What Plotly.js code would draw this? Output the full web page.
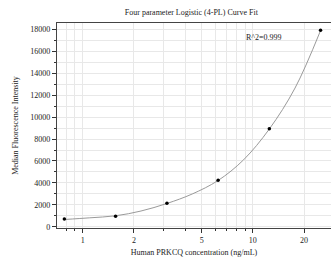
<!DOCTYPE html>
<html>
<head>
<meta charset="utf-8">
<script src="https://cdn.plot.ly/plotly-3.0.1.min.js"></script>
<style>html,body{margin:0;padding:0;background:#fff;}#chart{width:331px;height:266px;}</style>
</head>
<body>
<div id="chart"></div>
<script>
// Measured standards
var concentration = [0.78, 1.56, 3.125, 6.25, 12.5, 25];
var mfi = [700, 950, 2150, 4240, 8950, 17930];
// Fitted 4-PL curve
var curveX = [0.78, 1.1, 1.56, 2.2, 3.125, 4.4, 6.25, 8.8, 12.5, 17.7, 25];
var curveY = [657, 810, 995, 1430, 2120, 2985, 4220, 6090, 8920, 12660, 17910];
var xTickVals = [1, 2, 5, 10, 20];
var xTickText = ["1", "2", "5", "10", "20"];
var xMinorVals = [0.8, 0.9, 3, 4, 6, 7, 8, 9];
var titleText = "Four parameter Logistic (4-PL) Curve Fit";
var xTitle = "Human PRKCQ concentration (ng/mL)";
var yTitle = "Median Fluorescence Intensity";
var r2Text = "R^2=0.999";

var font = "Liberation Serif, Times New Roman, serif";
var traces = [
  {x: curveX, y: curveY, type: "scatter", mode: "lines",
   line: {color: "#9a9a9a", width: 1, shape: "spline"}, hoverinfo: "skip"},
  {x: concentration, y: mfi, type: "scatter", mode: "markers",
   marker: {color: "#000", size: 3.5}}
];
var layout = {
  width: 331, height: 266,
  margin: {l: 57, r: 0, t: 23, b: 38},
  paper_bgcolor: "#fff", plot_bgcolor: "#fff",
  showlegend: false,
  font: {family: font, size: 8, color: "#222"},
  title: {text: titleText, font: {family: font, size: 8, color: "#222"}, x: 0.578, xanchor: "center", y: 0.955, yanchor: "middle"},
  xaxis: {
    type: "log", range: [Math.log10(0.706), Math.log10(28.8)],
    tickvals: xTickVals, ticktext: xTickText,
    ticks: "outside", ticklen: 4, tickwidth: 1, tickcolor: "#333",
    showgrid: true, gridcolor: "#e8e8e8", gridwidth: 1,
    minor: {tickvals: xMinorVals, ticks: "outside", ticklen: 2, tickcolor: "#333", showgrid: true, gridcolor: "#e8e8e8"},
    showline: true, linecolor: "#444", linewidth: 1.2, mirror: true,
    zeroline: false,
    tickfont: {family: font, size: 8, color: "#222"},
    title: {text: xTitle, font: {family: font, size: 8, color: "#222"}, standoff: 5}
  },
  yaxis: {
    range: [-120, 18600],
    tickvals: [0, 2000, 4000, 6000, 8000, 10000, 12000, 14000, 16000, 18000],
    tickformat: "d",
    ticks: "outside", ticklen: 4, tickwidth: 1, tickcolor: "#333",
    showgrid: true, gridcolor: "#e8e8e8", gridwidth: 1,
    minor: {dtick: 1000, ticks: "outside", ticklen: 2, tickcolor: "#333", showgrid: true, gridcolor: "#e8e8e8"},
    showline: true, linecolor: "#444", linewidth: 1.2, mirror: true,
    zeroline: false,
    tickfont: {family: font, size: 8, color: "#222"},
    title: {text: yTitle, font: {family: font, size: 8, color: "#222"}, standoff: 10}
  },
  annotations: [{
    text: r2Text, xref: "paper", yref: "paper", x: 0.755, y: 0.93,
    xanchor: "center", yanchor: "middle", showarrow: false,
    font: {family: font, size: 8, color: "#222"}
  }]
};
Plotly.newPlot("chart", traces, layout, {displayModeBar: false, staticPlot: true});
</script>
</body>
</html>
